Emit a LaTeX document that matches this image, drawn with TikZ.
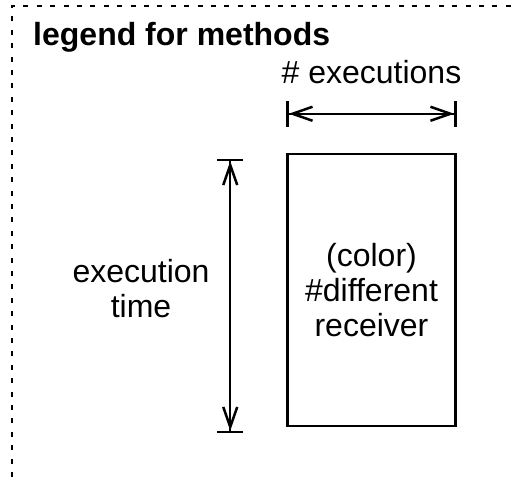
\documentclass[tikz,border=0pt]{standalone}
\usepackage{fontspec}
\setmainfont{Liberation Sans}
\usetikzlibrary{arrows.meta}
\usetikzlibrary{calc}

\begin{document}
\begin{tikzpicture}[x = 0.5pt, y = -0.5pt, line width = 1.25pt,
		dim/.style = {{Bar[width = 13pt] Straight Barb[length = 10pt, width = 7pt]}-{Straight Barb[length = 10pt, width = 7pt] Bar[width = 13pt]}},
		lbl/.style = {font = \fontsize{16}{17.5}\selectfont, align = center, inner sep = 0pt}]
		\useasboundingbox (0,0) rectangle (511,477);
		\draw [dash pattern = on 2.5pt off 4.2pt, line width = 1.3pt] (12,477) -- (12,6) -- (511,6);
		\node[lbl, font = \fontsize{16}{17.5}\selectfont\bfseries, anchor = base west] (title) at (32,45) {legend for methods};
		\node[draw, lbl, minimum width = 84pt, minimum height = 136pt] (box) at (371.5,290) {(color)\\\#different\\receiver};
		\coordinate (hl) at ($(box.north west) + (0,-39)$);
		\coordinate (hr) at ($(box.north east) + (0,-39)$);
		\coordinate (vt) at ($(box.north west) + (-56,6)$);
		\coordinate (vb) at ($(box.south west) + (-56,6)$);
		\draw [dim] (hl) -- (hr);
		\draw [dim] (vt) -- (vb);
		\node[lbl, anchor = base] (count) at (371.5,83) {\# executions};
		\node[lbl] (time) at (141,289) {execution\\time};
	\end{tikzpicture}
\end{document}
